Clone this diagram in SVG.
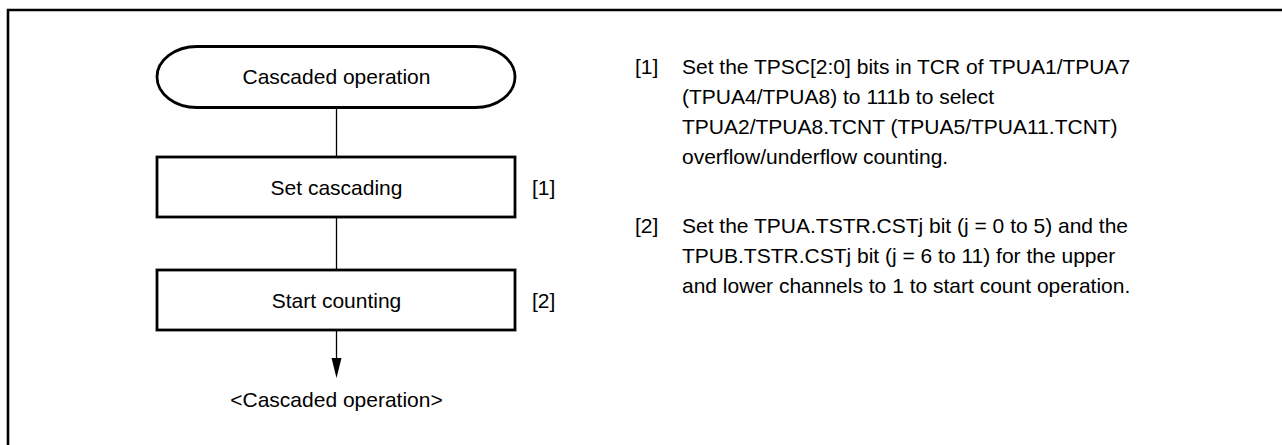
<svg xmlns="http://www.w3.org/2000/svg" width="1282" height="445" viewBox="0 0 1282 445">
<style>
text{font-family:"Liberation Sans",Arial,sans-serif;font-size:21px;fill:#000}
.c{text-anchor:middle}
.box{fill:#fff;stroke:#000;stroke-width:2.8}
.ln{stroke:#000;stroke-width:1.3;fill:none}
.frame{stroke:#000;stroke-width:2.6;fill:none}
</style>
<defs>
<marker id="ah" markerWidth="10" markerHeight="20" refX="5" refY="20" orient="auto-start-reverse" markerUnits="userSpaceOnUse" viewBox="0 0 10 20">
<path d="M0,0 L10,0 L5,20 Z" fill="#000" transform="rotate(-90 5 10) translate(0,0)"/>
</marker>
</defs>
<rect width="1282" height="445" fill="#fff"/>
<path class="frame" d="M8,445 V10 H1282"/>
<g id="connectors">
<line class="ln" x1="336.5" y1="108" x2="336.5" y2="157"/>
<line class="ln" x1="336.5" y1="217" x2="336.5" y2="270"/>
<line class="ln" x1="336.5" y1="330" x2="336.5" y2="360"/>
<path d="M331.5,358 L341.5,358 L336.5,378 Z" fill="#000"/>
</g>
<g id="start">
<rect class="box" x="157" y="46.5" width="358" height="61" rx="40" ry="30.5" stroke-width="2.5"/>
<text class="c" x="336.5" y="84">Cascaded operation</text>
</g>
<g id="step1">
<rect class="box" x="157" y="157" width="358" height="60"/>
<text class="c" x="336.5" y="194.5">Set cascading</text>
<text x="532" y="194.5">[1]</text>
</g>
<g id="step2">
<rect class="box" x="157" y="270" width="358" height="60"/>
<text class="c" x="336.5" y="307.5">Start counting</text>
<text x="532" y="307.5">[2]</text>
</g>
<g id="end">
<text class="c" x="336.5" y="407">&lt;Cascaded operation&gt;</text>
</g>
<g id="notes">
<text x="635" y="74">[1]</text>
<text x="682" y="74">Set the TPSC[2:0] bits in TCR of TPUA1/TPUA7</text>
<text x="682" y="104">(TPUA4/TPUA8) to 111b to select</text>
<text x="682" y="134">TPUA2/TPUA8.TCNT (TPUA5/TPUA11.TCNT)</text>
<text x="682" y="164">overflow/underflow counting.</text>
<text x="635" y="233">[2]</text>
<text x="682" y="233">Set the TPUA.TSTR.CSTj bit (j = 0 to 5) and the</text>
<text x="682" y="263">TPUB.TSTR.CSTj bit (j = 6 to 11) for the upper</text>
<text x="682" y="293">and lower channels to 1 to start count operation.</text>
</g>
</svg>
